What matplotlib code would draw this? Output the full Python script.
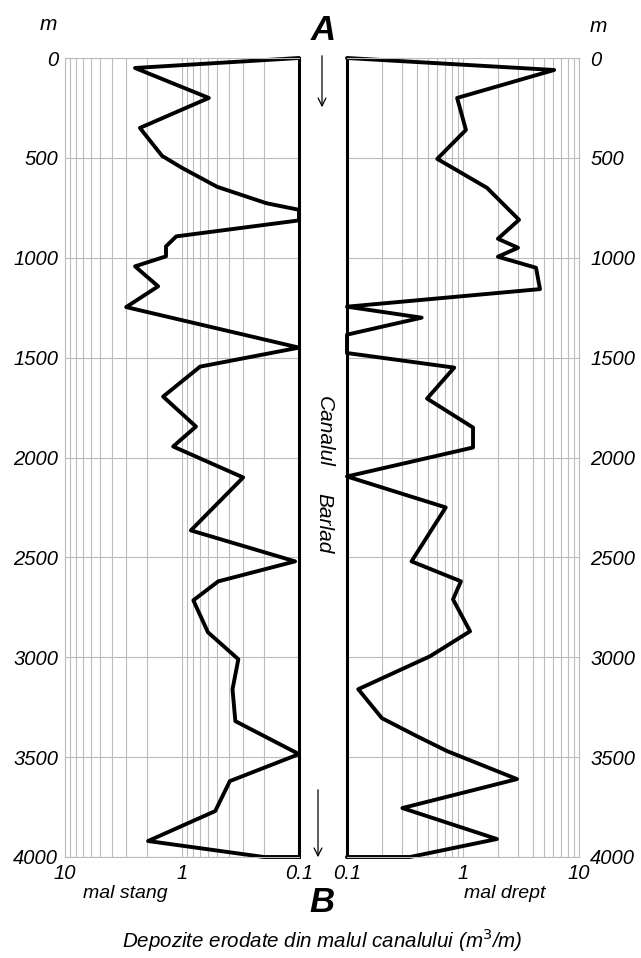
import numpy as np
import matplotlib.pyplot as plt
from matplotlib.ticker import LogLocator, NullFormatter, FixedLocator

plt.rcParams['font.family'] = ['Liberation Sans', 'DejaVu Sans']

# Left bank (mal stang): depth along the channel (m) and eroded volume (m3/m)
left_depth = [0, 50, 200, 350, 490, 550, 645, 727, 760, 813, 893, 943, 993,
              1043, 1143, 1247, 1450, 1545, 1695, 1845, 1945, 2100, 2365,
              2520, 2620, 2715, 2875, 3010, 3160, 3320, 3485, 3620, 3770,
              3920, 4000, 4000]
left_vol = [0.1, 2.52, 0.59, 2.29, 1.48, 1.0, 0.50, 0.19, 0.1, 0.1, 1.12,
            1.37, 1.37, 2.52, 1.60, 3.0, 0.1, 0.70, 1.45, 0.76, 1.19, 0.30,
            0.84, 0.108, 0.49, 0.80, 0.60, 0.33, 0.37, 0.35, 0.1, 0.39, 0.52,
            1.95, 0.20, 0.1]

# Right bank (mal drept)
right_depth = [0, 60, 200, 360, 505, 650, 810, 905, 950, 995, 1050, 1157,
               1245, 1300, 1385, 1477, 1550, 1705, 1850, 1950, 2095, 2250,
               2520, 2620, 2710, 2870, 2995, 3160, 3305, 3395, 3470, 3610,
               3755, 3910, 4000, 4000]
right_vol = [0.1, 6.1, 0.89, 1.06, 0.60, 1.61, 3.04, 2.0, 2.98, 2.0, 4.26,
             4.61, 0.1, 0.44, 0.1, 0.1, 0.84, 0.49, 1.22, 1.22, 0.1, 0.71,
             0.36, 0.96, 0.82, 1.15, 0.52, 0.125, 0.20, 0.40, 0.73, 2.92,
             0.30, 1.96, 0.35, 0.1]

depth_ticks = [0, 500, 1000, 1500, 2000, 2500, 3000, 3500, 4000]
vol_ticks = [0.1, 1, 10]
vol_labels = ['0.1', '1', '10']

W, H = 641, 958
fig = plt.figure(figsize=(W / 100, H / 100), dpi=100)

def fx(px):
    return px / W

def fy(py):
    return 1 - py / H

bottom = fy(857)
height = fy(58) - bottom
axL = fig.add_axes([fx(65), bottom, fx(299) - fx(65), height])
axR = fig.add_axes([fx(347), bottom, fx(579) - fx(347), height])

grid_col = '#bcbcbc'
tick_fs = 14.5

def setup(ax, xlim, inner):
    ax.set_xscale('log')
    ax.set_xlim(*xlim)
    ax.set_ylim(4000, 0)
    ax.xaxis.set_major_locator(FixedLocator(vol_ticks))
    ax.set_xticklabels(vol_labels, fontsize=tick_fs, style='italic')
    ax.xaxis.set_minor_locator(LogLocator(base=10, subs=np.arange(2, 10)))
    ax.xaxis.set_minor_formatter(NullFormatter())
    ax.set_yticks(depth_ticks)
    ax.grid(True, which='both', axis='x', color=grid_col, lw=0.8)
    ax.grid(True, which='major', axis='y', color=grid_col, lw=0.8)
    ax.tick_params(which='both', length=0)
    ax.tick_params(axis='x', pad=5)
    for s in ax.spines.values():
        s.set_color(grid_col)
        s.set_linewidth(0.8)
    ax.spines[inner].set_color('black')
    ax.spines[inner].set_linewidth(2.2)
    ax.set_axisbelow(True)

setup(axL, (10, 0.1), 'right')
setup(axR, (0.1, 10), 'left')

axL.tick_params(axis='y', labelsize=tick_fs, pad=5)
for t in axL.get_yticklabels():
    t.set_style('italic')
axR.yaxis.tick_right()
axR.tick_params(axis='y', labelsize=tick_fs, pad=8)
for t in axR.get_yticklabels():
    t.set_style('italic')

axL.plot(left_vol, left_depth, color='black', lw=2.8, solid_joinstyle='round',
         solid_capstyle='round', clip_on=False)
axR.plot(right_vol, right_depth, color='black', lw=2.8, solid_joinstyle='round',
         solid_capstyle='round', clip_on=False)

# Channel annotations in the middle
fig.text(fx(57), fy(25), 'm', fontsize=15, style='italic', ha='right', va='center')
fig.text(fx(590), fy(27), 'm', fontsize=15, style='italic', ha='left', va='center')
fig.text(fx(323), fy(31), 'A', fontsize=25, style='italic', weight='bold',
         ha='center', va='center')
fig.text(fx(322), fy(903), 'B', fontsize=25, style='italic', weight='bold',
         ha='center', va='center')
fig.text(fx(324), fy(431), 'Canalul', fontsize=15, style='italic', rotation=-90,
         ha='center', va='center')
fig.text(fx(324), fy(523), 'Barlad', fontsize=15, style='italic', rotation=-90,
         ha='center', va='center')
arrow = dict(arrowstyle='->', color='black', lw=0.9, mutation_scale=14)
axL.annotate('', xy=(fx(322), fy(110)), xytext=(fx(322), fy(53)),
             xycoords='figure fraction', textcoords='figure fraction',
             arrowprops=arrow)
axL.annotate('', xy=(fx(318), fy(860)), xytext=(fx(318), fy(787)),
             xycoords='figure fraction', textcoords='figure fraction',
             arrowprops=arrow)

fig.text(fx(125), fy(893), 'mal stang', fontsize=14, style='italic',
         ha='center', va='center')
fig.text(fx(505), fy(893), 'mal drept', fontsize=14, style='italic',
         ha='center', va='center')
fig.text(fx(322), fy(940), 'Depozite erodate din malul canalului (m$^3$/m)',
         fontsize=14.8, style='italic', ha='center', va='center')

fig.savefig('out.png', dpi=100)
